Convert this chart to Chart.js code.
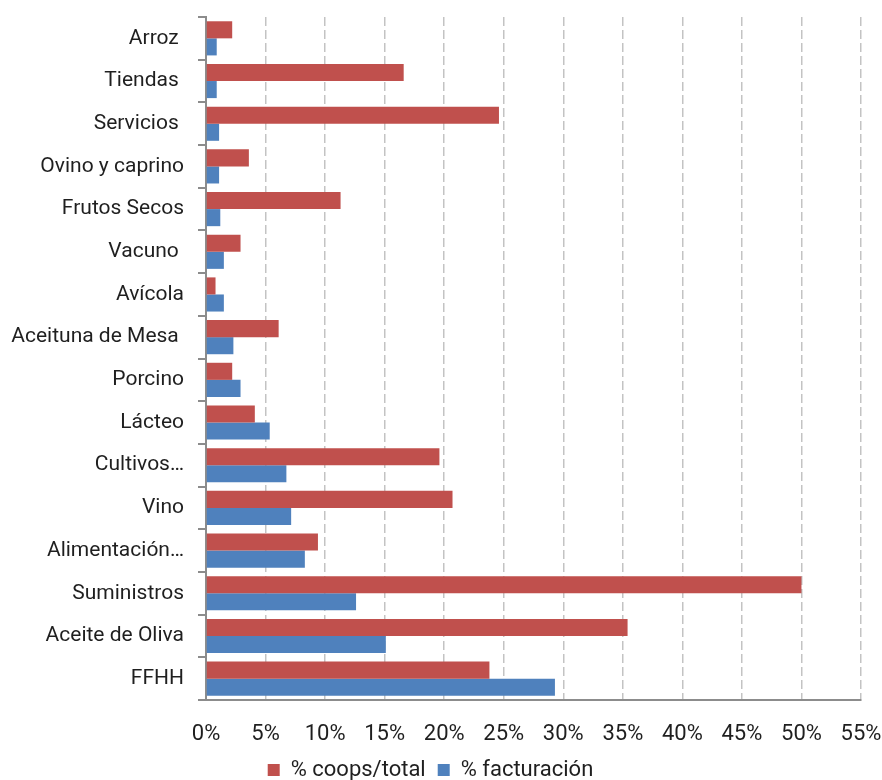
<!DOCTYPE html>
<html>
<head>
<meta charset="utf-8">
<script src="https://cdn.jsdelivr.net/npm/chart.js@4"></script>
<style>
html,body{margin:0;padding:0;background:#fff;}
#wrap{width:882px;height:780px;position:relative;}
</style>
</head>
<body>
<div id="wrap"><canvas id="c" width="882" height="780"></canvas></div>
<script>
const categories = ["Arroz ", "Tiendas ", "Servicios ", "Ovino y caprino", "Frutos Secos", "Vacuno ", "Avícola", "Aceituna de Mesa ", "Porcino", "Lácteo", "Cultivos…", "Vino", "Alimentación…", "Suministros", "Aceite de Oliva", "FFHH"];
const coopsTotal = [2.2, 16.6, 24.6, 3.6, 11.3, 2.9, 0.8, 6.1, 2.2, 4.1, 19.6, 20.7, 9.4, 50.0, 35.4, 23.8];
const facturacion = [0.9, 0.9, 1.1, 1.1, 1.2, 1.5, 1.5, 2.3, 2.9, 5.35, 6.75, 7.15, 8.3, 12.6, 15.1, 29.3];
const seriesNames = ["% coops/total", "% facturación"];
const xMin = 0, xMax = 55, xStep = 5;

const FONT = "Roboto";
const TXT = "#1f1f1f";

new Chart(document.getElementById('c'), {
  type: 'bar',
  data: {
    labels: categories,
    datasets: [
      { label: seriesNames[0], data: coopsTotal, backgroundColor: '#C0504D', borderWidth: 0 },
      { label: seriesNames[1], data: facturacion, backgroundColor: '#4F81BD', borderWidth: 0 }
    ]
  },
  options: {
    indexAxis: 'y',
    responsive: false,
    animation: false,
    devicePixelRatio: 1,
    layout: { padding: { top: 17, right: 21, left: 0, bottom: -11 } },
    datasets: { bar: { categoryPercentage: 0.8, barPercentage: 1.0 } },
    plugins: {
      tooltip: { enabled: false },
      legend: {
        position: 'bottom',
        labels: {
          color: TXT,
          font: { family: FONT, size: 22 },
          boxWidth: 12, boxHeight: 12, padding: 12
        }
      }
    },
    scales: {
      x: {
        min: xMin, max: xMax,
        ticks: {
          stepSize: xStep,
          color: TXT,
          font: { family: FONT, size: 22 },
          padding: 21,
          callback: v => v + '%'
        },
        grid: { color: '#c3c3c3', lineWidth: 1.5, drawTicks: false },
        border: { display: true, color: '#8c8c8c', width: 2, dash: [9, 4] },
        afterFit: s => { s.height = 47; s.paddingLeft = 0; s.paddingRight = 0; }
      },
      y: {
        ticks: {
          color: TXT,
          font: { family: FONT, size: 21 },
          padding: 14,
          autoSkip: false
        },
        grid: { drawOnChartArea: false, drawTicks: true, tickLength: 8, color: '#8c8c8c', lineWidth: 2, offset: true },
        border: { display: true, color: '#8c8c8c', width: 2 },
        afterFit: s => { s.width = 206; s.paddingTop = 0; s.paddingBottom = 0; }
      }
    }
  }
});
</script>
</body>
</html>
